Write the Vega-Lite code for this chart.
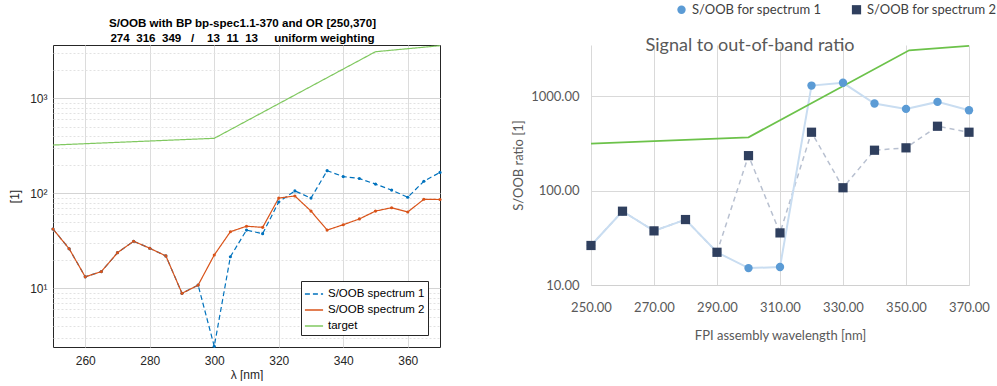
{
  "$schema": "https://vega.github.io/schema/vega-lite/v6.json",
  "background": "white",
  "padding": {"left": 8, "top": 3, "right": 0, "bottom": 0},
  "spacing": 69,
  "datasets": {
    "left": [
      {"series": "S/OOB spectrum 1", "wl": 250, "v": 42.1},
      {"series": "S/OOB spectrum 1", "wl": 255, "v": 26.1},
      {"series": "S/OOB spectrum 1", "wl": 260, "v": 13.2},
      {"series": "S/OOB spectrum 1", "wl": 265, "v": 15.0},
      {"series": "S/OOB spectrum 1", "wl": 270, "v": 23.7},
      {"series": "S/OOB spectrum 1", "wl": 275, "v": 31.3},
      {"series": "S/OOB spectrum 1", "wl": 280, "v": 26.4},
      {"series": "S/OOB spectrum 1", "wl": 285, "v": 21.9},
      {"series": "S/OOB spectrum 1", "wl": 290, "v": 8.85},
      {"series": "S/OOB spectrum 1", "wl": 295, "v": 10.8},
      {"series": "S/OOB spectrum 1", "wl": 300, "v": 2.45},
      {"series": "S/OOB spectrum 1", "wl": 305, "v": 21.5},
      {"series": "S/OOB spectrum 1", "wl": 310, "v": 41},
      {"series": "S/OOB spectrum 1", "wl": 315, "v": 37.6},
      {"series": "S/OOB spectrum 1", "wl": 320, "v": 81},
      {"series": "S/OOB spectrum 1", "wl": 325, "v": 106},
      {"series": "S/OOB spectrum 1", "wl": 330, "v": 89},
      {"series": "S/OOB spectrum 1", "wl": 335, "v": 173},
      {"series": "S/OOB spectrum 1", "wl": 340, "v": 150},
      {"series": "S/OOB spectrum 1", "wl": 345, "v": 143},
      {"series": "S/OOB spectrum 1", "wl": 350, "v": 125},
      {"series": "S/OOB spectrum 1", "wl": 355, "v": 108},
      {"series": "S/OOB spectrum 1", "wl": 360, "v": 90.8},
      {"series": "S/OOB spectrum 1", "wl": 365, "v": 134},
      {"series": "S/OOB spectrum 1", "wl": 370, "v": 166},
      {"series": "S/OOB spectrum 2", "wl": 250, "v": 42.1},
      {"series": "S/OOB spectrum 2", "wl": 255, "v": 26.1},
      {"series": "S/OOB spectrum 2", "wl": 260, "v": 13.2},
      {"series": "S/OOB spectrum 2", "wl": 265, "v": 15.0},
      {"series": "S/OOB spectrum 2", "wl": 270, "v": 23.7},
      {"series": "S/OOB spectrum 2", "wl": 275, "v": 31.3},
      {"series": "S/OOB spectrum 2", "wl": 280, "v": 26.4},
      {"series": "S/OOB spectrum 2", "wl": 285, "v": 21.9},
      {"series": "S/OOB spectrum 2", "wl": 290, "v": 8.85},
      {"series": "S/OOB spectrum 2", "wl": 295, "v": 10.8},
      {"series": "S/OOB spectrum 2", "wl": 300, "v": 22.4},
      {"series": "S/OOB spectrum 2", "wl": 305, "v": 39.4},
      {"series": "S/OOB spectrum 2", "wl": 310, "v": 45},
      {"series": "S/OOB spectrum 2", "wl": 315, "v": 43.8},
      {"series": "S/OOB spectrum 2", "wl": 320, "v": 89},
      {"series": "S/OOB spectrum 2", "wl": 325, "v": 93.7},
      {"series": "S/OOB spectrum 2", "wl": 330, "v": 65},
      {"series": "S/OOB spectrum 2", "wl": 335, "v": 41},
      {"series": "S/OOB spectrum 2", "wl": 340, "v": 46.7},
      {"series": "S/OOB spectrum 2", "wl": 345, "v": 53.7},
      {"series": "S/OOB spectrum 2", "wl": 350, "v": 65},
      {"series": "S/OOB spectrum 2", "wl": 355, "v": 70.5},
      {"series": "S/OOB spectrum 2", "wl": 360, "v": 63.6},
      {"series": "S/OOB spectrum 2", "wl": 365, "v": 86.5},
      {"series": "S/OOB spectrum 2", "wl": 370, "v": 86},
      {"series": "target", "wl": 250, "v": 322},
      {"series": "target", "wl": 300, "v": 379},
      {"series": "target", "wl": 350, "v": 3093},
      {"series": "target", "wl": 370, "v": 3580}
    ],
    "right": [
      {"series": "S/OOB for spectrum 1", "wl": 250, "v": 26.2},
      {"series": "S/OOB for spectrum 1", "wl": 260, "v": 60.4},
      {"series": "S/OOB for spectrum 1", "wl": 270, "v": 37.4},
      {"series": "S/OOB for spectrum 1", "wl": 280, "v": 49.3},
      {"series": "S/OOB for spectrum 1", "wl": 290, "v": 22.2},
      {"series": "S/OOB for spectrum 1", "wl": 300, "v": 15.1},
      {"series": "S/OOB for spectrum 1", "wl": 310, "v": 15.5},
      {"series": "S/OOB for spectrum 1", "wl": 320, "v": 1291},
      {"series": "S/OOB for spectrum 1", "wl": 330, "v": 1381},
      {"series": "S/OOB for spectrum 1", "wl": 340, "v": 834},
      {"series": "S/OOB for spectrum 1", "wl": 350, "v": 731},
      {"series": "S/OOB for spectrum 1", "wl": 360, "v": 867},
      {"series": "S/OOB for spectrum 1", "wl": 370, "v": 707},
      {"series": "S/OOB for spectrum 2", "wl": 250, "v": 26.2},
      {"series": "S/OOB for spectrum 2", "wl": 260, "v": 60.4},
      {"series": "S/OOB for spectrum 2", "wl": 270, "v": 37.4},
      {"series": "S/OOB for spectrum 2", "wl": 280, "v": 49.3},
      {"series": "S/OOB for spectrum 2", "wl": 290, "v": 22.2},
      {"series": "S/OOB for spectrum 2", "wl": 300, "v": 234},
      {"series": "S/OOB for spectrum 2", "wl": 310, "v": 35.6},
      {"series": "S/OOB for spectrum 2", "wl": 320, "v": 414},
      {"series": "S/OOB for spectrum 2", "wl": 330, "v": 107},
      {"series": "S/OOB for spectrum 2", "wl": 340, "v": 267},
      {"series": "S/OOB for spectrum 2", "wl": 350, "v": 283},
      {"series": "S/OOB for spectrum 2", "wl": 360, "v": 479},
      {"series": "S/OOB for spectrum 2", "wl": 370, "v": 414},
      {"series": "target", "wl": 250, "v": 314},
      {"series": "target", "wl": 300, "v": 366},
      {"series": "target", "wl": 351, "v": 3050},
      {"series": "target", "wl": 370, "v": 3390}
    ]
  },
  "hconcat": [
    {
      "width": 387,
      "height": 302,
      "view": {"stroke": "#262626", "strokeWidth": 1},
      "title": {
        "text": ["S/OOB with BP bp-spec1.1-370 and OR [250,370]", "274\u00a0\u00a0316\u00a0\u00a0349\u00a0\u00a0\u00a0/\u00a0\u00a0\u00a0\u00a013\u00a0\u00a011\u00a0\u00a013\u00a0\u00a0\u00a0\u00a0\u00a0uniform weighting"],
        "font": "Liberation Sans",
        "fontSize": 11.6,
        "fontWeight": "bold",
        "color": "#000000",
        "anchor": "middle",
        "dx": -4,
        "offset": -1,
        "lineHeight": 15
      },
      "layer": [
        {
          "data": {"name": "left"},
          "mark": {"type": "line", "strokeWidth": 1.2},
          "encoding": {
            "x": {
              "field": "wl", "type": "quantitative",
              "scale": {"domain": [250, 370], "nice": false, "zero": false},
              "axis": {
                "values": [260, 280, 300, 320, 340, 360],
                "title": "λ [nm]",
                "grid": true, "gridColor": "#dcdcdc",
                "domain": false, "ticks": false,
                "labelPadding": 8, "titlePadding": 3,
                "labelFlush": false,
                "labelFont": "Liberation Sans", "labelFontSize": 12, "labelColor": "#262626",
                "titleFont": "Liberation Sans", "titleFontSize": 12, "titleFontWeight": "normal", "titleColor": "#262626"
              }
            },
            "y": {
              "field": "v", "type": "quantitative",
              "scale": {"type": "log", "domain": [2.41, 3640], "nice": false},
              "axis": {
                "values": [3,4,5,6,7,8,9,10,20,30,40,50,60,70,80,90,100,200,300,400,500,600,700,800,900,1000,2000,3000],
                "labelExpr": "datum.value==10?'10¹':datum.value==100?'10²':datum.value==1000?'10³':''",
                "title": "[1]",
                "grid": true,
                "gridColor": {"condition": {"test": "datum.value==10||datum.value==100||datum.value==1000", "value": "#d4d4d4"}, "value": "#e2e2e2"},
                "gridDash": {"condition": {"test": "datum.value==10||datum.value==100||datum.value==1000", "value": []}, "value": [2, 2]},
                "domain": false, "ticks": false,
                "labelPadding": 6, "titlePadding": 8,
                "labelFont": "Liberation Sans", "labelFontSize": 12, "labelColor": "#262626",
                "titleFont": "Liberation Sans", "titleFontSize": 12, "titleFontWeight": "normal", "titleColor": "#262626"
              }
            },
            "color": {
              "field": "series", "type": "nominal",
              "scale": {"domain": ["S/OOB spectrum 1", "S/OOB spectrum 2", "target"], "range": ["#0072BD", "#D95319", "#80c860"]},
              "legend": {
                "orient": "bottom-right", "offset": 12, "title": null,
                "strokeColor": "#262626", "fillColor": "white", "padding": 3,
                "symbolType": "stroke", "symbolSize": 330, "symbolStrokeWidth": 1.3,
                "labelFont": "Liberation Sans", "labelFontSize": 11.5, "labelColor": "#000000",
                "rowPadding": 0, "labelOffset": 4
              }
            },
            "strokeDash": {
              "field": "series", "type": "nominal",
              "scale": {"domain": ["S/OOB spectrum 1", "S/OOB spectrum 2", "target"], "range": [[5, 3], [1, 0], [1, 0]]},
              "legend": {
                "orient": "bottom-right", "offset": 12, "title": null,
                "strokeColor": "#262626", "fillColor": "white", "padding": 3,
                "symbolType": "stroke", "symbolSize": 330, "symbolStrokeWidth": 1.3,
                "labelFont": "Liberation Sans", "labelFontSize": 11.5, "labelColor": "#000000",
                "rowPadding": 0, "labelOffset": 4
              }
            }
          }
        },
        {
          "data": {"name": "left"},
          "transform": [{"filter": "datum.series != 'target'"}],
          "mark": {"type": "point", "filled": true, "size": 10, "opacity": 1},
          "encoding": {
            "x": {"field": "wl", "type": "quantitative"},
            "y": {"field": "v", "type": "quantitative"},
            "color": {"field": "series", "type": "nominal", "legend": null}
          }
        }
      ]
    },
    {
      "width": 378,
      "height": 240,
      "view": {"stroke": null},
      "title": {
        "text": "Signal to out-of-band ratio",
        "font": "Lato", "fontSize": 18, "fontWeight": "normal", "color": "#595959",
        "anchor": "middle", "frame": "group", "dx": -30, "offset": -52
      },
      "data": {"name": "right"},
      "encoding": {
        "x": {
          "field": "wl", "type": "quantitative",
          "scale": {"domain": [250, 370], "nice": false, "zero": false},
          "axis": {
            "values": [250, 270, 290, 310, 330, 350, 370],
            "format": ".2f",
            "title": "FPI assembly wavelength  [nm]",
            "grid": true, "gridColor": "#d9d9d9",
            "domainColor": "#d0d0d0", "ticks": false,
            "labelFlush": false, "labelOverlap": false,
            "labelPadding": 16, "titlePadding": 15,
            "labelFont": "Lato", "labelFontSize": 13, "labelColor": "#595959",
            "titleFont": "Lato", "titleFontSize": 13, "titleFontWeight": "normal", "titleColor": "#595959"
          }
        },
        "y": {
          "field": "v", "type": "quantitative",
          "scale": {"type": "log", "domain": [10, 3470], "nice": false},
          "axis": {
            "values": [10, 100, 1000],
            "format": ".2f",
            "title": "S/OOB ratio [1]",
            "grid": true, "gridColor": "#d9d9d9",
            "domain": false, "ticks": false,
            "labelPadding": 12, "titlePadding": 5,
            "labelFont": "Lato", "labelFontSize": 13, "labelColor": "#595959",
            "titleFont": "Lato", "titleFontSize": 13, "titleFontWeight": "normal", "titleColor": "#595959"
          }
        }
      },
      "layer": [
        {
          "transform": [{"filter": "datum.series == 'S/OOB for spectrum 2'"}],
          "mark": {"type": "line", "stroke": "#b8c0d0", "strokeWidth": 1.5, "strokeDash": [5, 4]}
        },
        {
          "transform": [{"filter": "datum.series == 'S/OOB for spectrum 1'"}],
          "mark": {"type": "line", "stroke": "#c9ddf1", "strokeWidth": 2}
        },
        {
          "transform": [{"filter": "datum.series == 'target'"}],
          "mark": {"type": "line", "stroke": "#6cc24a", "strokeWidth": 1.8}
        },
        {
          "transform": [{"filter": "datum.series != 'target'"}],
          "mark": {"type": "point", "filled": true, "opacity": 1},
          "encoding": {
            "color": {
              "field": "series", "type": "nominal",
              "scale": {"domain": ["S/OOB for spectrum 1", "S/OOB for spectrum 2"], "range": ["#5b9bd5", "#2f3f5e"]},
              "legend": {
                "orient": "none", "legendX": 84, "legendY": -42, "direction": "horizontal", "title": null,
                "labelFont": "Lato", "labelFontSize": 13, "labelColor": "#404040", "columnPadding": 28, "symbolSize": 70
              }
            },
            "shape": {
              "field": "series", "type": "nominal",
              "scale": {"domain": ["S/OOB for spectrum 1", "S/OOB for spectrum 2"], "range": ["circle", "square"]},
              "legend": {
                "orient": "none", "legendX": 84, "legendY": -42, "direction": "horizontal", "title": null,
                "labelFont": "Lato", "labelFontSize": 13, "labelColor": "#404040", "columnPadding": 28, "symbolSize": 70
              }
            },
            "size": {
              "field": "series", "type": "nominal",
              "scale": {"domain": ["S/OOB for spectrum 1", "S/OOB for spectrum 2"], "range": [70, 85]},
              "legend": null
            }
          }
        }
      ]
    }
  ],
  "resolve": {
    "scale": {"x": "independent", "y": "independent", "color": "independent", "strokeDash": "independent", "shape": "independent", "size": "independent"},
    "legend": {"color": "independent", "strokeDash": "independent", "shape": "independent"}
  }
}
